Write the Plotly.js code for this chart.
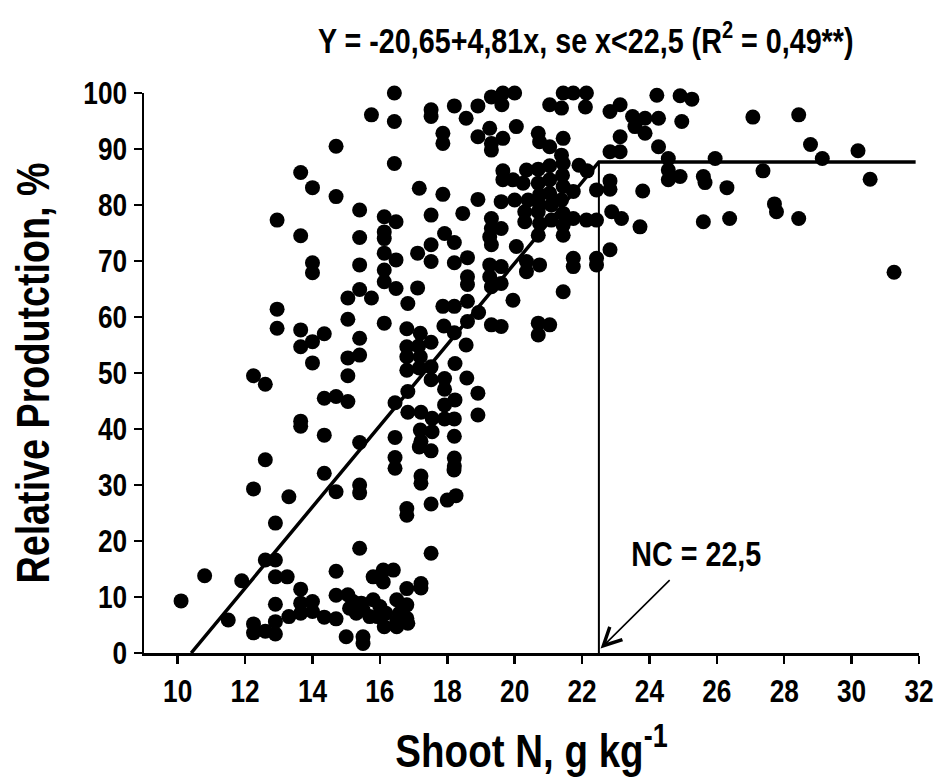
<!DOCTYPE html>
<html>
<head>
<meta charset="utf-8">
<script src="https://cdn.plot.ly/plotly-3.0.1.min.js"></script>
<style>html,body{margin:0;padding:0;background:#fff;}#chart{width:939px;height:778px;}</style>
</head>
<body>
<div id="chart"></div>
<script>
// Group A: Shoot N < 14.2
const shootN_A = [10.1,10.8,11.5,11.9,12.25,12.25,12.6,12.6,12.9,12.9,12.9,12.9,12.9,13.25,13.3,13.65,13.65,13.65,14.0,14.0,
  12.25,12.9,13.3,12.6,13.65,13.65,12.25,12.6,14.0,13.65,14.0,13.65,12.95,12.95,14.0,14.0,13.65,12.95,14.0,13.65];
const relProd_A = [9.3,13.8,5.9,12.9,5.2,3.6,3.9,16.6,16.6,13.6,8.7,5.6,3.4,13.6,6.5,11.4,8.9,7.1,9.2,7.4,
  29.3,23.2,27.9,34.5,40.5,41.4,49.5,48.0,51.8,54.7,55.6,57.7,58.0,61.4,67.9,69.7,74.5,77.3,83.1,85.8];

// Group B: 14.2 - 16.6
const shootN_B = [14.35,14.7,14.7,14.7,15.05,15.2,15.45,15.5,15.1,15.3,15.8,16.0,16.18,15.7,15.93,16.13,15.0,15.5,15.5,15.8,16.1,16.4,16.1,16.5,16.5,16.5,16.58,15.4,
  14.35,14.7,15.4,15.4,14.35,15.4,14.35,14.7,15.05,15.05,15.05,15.4,15.4,15.05,14.35,15.05,15.4,15.75,16.13,15.4,16.13,16.13,16.13,16.48,16.48,15.4,16.13,16.13,16.13,16.48,15.4,14.7,14.7,16.43,16.43,15.75,16.43,16.45,16.45,16.45,16.45];
const relProd_B = [6.4,6.1,10.3,14.6,10.4,9.2,8.9,7.7,8.0,7.1,9.5,8.3,7.1,6.5,6.5,4.7,2.9,2.9,1.7,13.6,14.8,14.8,12.7,9.5,5.6,4.7,7.1,18.7,
  32.1,28.8,30.0,28.6,38.9,37.6,45.5,45.8,44.9,49.5,52.7,53.2,56.2,59.6,57.0,63.4,64.9,63.4,58.9,69.3,66.3,68.4,71.4,70.2,65.1,74.2,75.2,74.0,77.9,77.0,79.1,81.5,90.5,87.4,94.9,96.1,100,44.7,38.5,34.9,33.0];

// Group C: 16.6 - 19.0
const shootN_C = [17.52,17.52,18.21,18.56,18.91,17.87,17.87,18.91,
  17.17,17.87,18.91,17.52,18.46,17.92,18.21,17.52,17.12,17.52,18.21,18.6,18.6,18.6,17.12,16.83,17.87,18.21,18.6,18.93,18.6,17.9,18.21,
  16.8,17.2,17.52,17.15,16.8,16.8,17.2,17.52,16.8,17.17,17.52,17.92,17.92,18.23,18.58,18.91,18.91,18.56,16.83,16.83,17.22,17.55,17.92,18.21,17.92,18.23,17.2,17.55,17.22,17.52,17.17,18.21,18.21,18.21,17.22,17.22,16.8,16.8,17.52,18.0,18.26,18.2,17.52,
  16.8,17.22,17.22,16.8,16.8,16.83];
const relProd_C = [97.0,95.8,97.7,95.5,97.7,92.8,91.0,92.2,
  83.0,81.9,81.0,78.2,78.5,74.9,73.3,72.9,71.4,69.9,69.7,70.6,67.2,65.8,65.2,62.4,61.9,61.9,62.8,60.8,59.2,58.4,57.2,
  57.9,57.1,55.5,54.8,54.7,52.9,52.9,51.1,50.5,50.9,48.8,49.0,47.1,51.7,49.1,46.4,42.5,55.0,46.7,43.0,43.0,41.9,41.8,41.8,44.3,45.2,39.8,39.5,37.8,36.1,36.8,38.7,34.8,33.4,31.6,30.3,25.8,24.6,26.6,27.3,28.1,32.7,17.8,
  11.5,12.4,11.6,8.6,6.2,5.3];

// Group D: 19.0 - 23.5
const shootN_D = [19.31,19.65,20.0,19.62,19.26,19.31,19.31,19.65,20.05,21.04,21.39,21.44,21.74,22.13,22.1,20.7,20.74,21.04,21.44,21.39,22.83,23.13,23.5,23.13,22.83,23.13,
  19.65,19.65,19.95,20.35,20.7,21.04,21.44,21.42,21.91,22.15,20.25,20.7,21.04,21.44,21.74,22.43,22.83,22.83,19.6,20.0,20.4,20.74,20.74,21.04,21.09,21.39,
  19.31,19.31,19.6,19.26,19.31,20.3,20.3,20.7,20.74,20.7,21.09,21.44,21.44,21.44,21.74,22.13,22.43,22.88,23.17,22.83,20.05,
  20.35,20.35,20.74,19.26,19.26,19.6,19.6,19.31,21.74,21.74,22.43,22.43,21.44,19.95,20.7,21.04,20.7,19.31,19.6];
const relProd_D = [99.3,100,100,97.9,93.7,91.0,89.8,91.9,94.0,97.9,97.3,100,100,100,97.5,92.8,91.3,90.4,91.9,88.9,96.7,97.9,95.8,92.2,89.5,89.5,
  86.1,84.5,84.5,86.25,86.4,87.0,87.4,85.3,87.1,86.1,83.9,83.9,84.5,83.3,82.4,82.7,84.3,82.8,80.6,80.9,80.9,81.8,80.0,82.1,80.0,80.9,
  77.6,75.8,75.8,74.3,72.9,78.8,77.0,78.8,76.7,74.6,77.3,78.5,76.4,74.6,77.6,77.3,77.3,78.8,77.6,72.0,72.6,
  69.9,68.1,69.3,69.3,67.2,69.0,66.0,65.4,70.5,69.0,70.5,69.3,64.5,63.0,58.9,58.6,56.8,58.6,58.3];

// Group E: > 23.5
const shootN_E = [24.22,24.91,25.26,23.87,23.57,23.87,24.27,24.96,24.27,24.56,24.56,24.56,24.91,25.95,25.6,25.65,26.3,23.8,27.07,27.37,28.43,28.78,29.13,30.19,30.55,31.26,27.71,27.77,28.43,23.72,25.6,26.38];
const relProd_E = [99.6,99.5,98.9,95.5,94.0,92.8,95.5,94.9,90.4,88.3,86.25,84.5,85.1,88.3,85.1,84.0,83.1,82.5,95.7,86.1,96.1,90.8,88.3,89.7,84.6,68.0,80.2,78.8,77.6,76.1,77.0,77.6];

// Fitted linear-plateau model as drawn
const fitX = [10.4, 22.5, 31.9];
const fitY = [0, 87.7, 87.7];
const ncX = [22.5, 22.5];
const ncY = [0, 87.7];

const xTicks = [10,12,14,16,18,20,22,24,26,28,30,32];
const yTicks = [0,10,20,30,40,50,60,70,80,90,100];

const FONT = "'Liberation Sans', Arial, sans-serif";
const NARROW = 0.82; // reference uses a narrow bold face

const allX = [].concat(shootN_A, shootN_B, shootN_C, shootN_D, shootN_E);
const allY = [].concat(relProd_A, relProd_B, relProd_C, relProd_D, relProd_E);

const traces = [
  {x: allX, y: allY, type: 'scatter', mode: 'markers', cliponaxis: false,
   marker: {color: '#000', size: 15, line: {width: 0}}},
  {x: fitX, y: fitY, type: 'scatter', mode: 'lines', cliponaxis: false,
   line: {color: '#000', width: 3.5}},
  {x: ncX, y: ncY, type: 'scatter', mode: 'lines', cliponaxis: false,
   line: {color: '#000', width: 2}}
];

const layout = {
  width: 939, height: 778,
  margin: {l: 144, r: 20, t: 93, b: 125},
  paper_bgcolor: '#fff', plot_bgcolor: '#fff',
  showlegend: false,
  font: {family: FONT, color: '#000'},
  title: {text: 'Y = -20,65+4,81x, se x<22,5 (R<sup>2</sup> = 0,49**)',
          font: {family: FONT, size: 35, weight: 'bold', color: '#000'},
          x: 0.57, xanchor: 'center', xref: 'paper', y: 0.948, yanchor: 'middle'},
  xaxis: {range: [9, 32], tickvals: xTicks, ticktext: xTicks.map(String),
          showline: true, linecolor: '#000', linewidth: 2.5, mirror: false,
          ticks: 'outside', ticklen: 8, tickwidth: 2.5, tickcolor: '#000',
          showgrid: false, zeroline: false,
          tickfont: {family: FONT, size: 32, weight: 'bold', color: '#000'},
          title: {text: 'Shoot N, g kg<sup>-1</sup>', standoff: 26,
                  font: {family: FONT, size: 47, weight: 'bold', color: '#000'}}},
  yaxis: {range: [0, 100], tickvals: yTicks, ticktext: yTicks.map(String),
          showline: true, linecolor: '#000', linewidth: 2.5,
          ticks: 'outside', ticklen: 8, tickwidth: 2.5, tickcolor: '#000',
          showgrid: false, zeroline: false,
          tickfont: {family: FONT, size: 32, weight: 'bold', color: '#000'},
          title: {text: 'Relative Produtction, %', standoff: 10,
                  font: {family: FONT, size: 46, weight: 'bold', color: '#000'}}},
  annotations: [
    {x: 22.55, y: 0.8, xref: 'x', yref: 'y', text: 'NC = 22,5', showarrow: true,
     ax: 96, ay: -95, startstandoff: 8, arrowhead: 5, arrowsize: 2.2, arrowwidth: 1.6, arrowcolor: '#000',
     font: {family: FONT, size: 35, weight: 'bold', color: '#000'}}
  ]
};

function condense() {
  document.querySelectorAll('#chart svg text').forEach(function (t) {
    if (!t.textContent || !t.textContent.trim()) { t.remove(); return; }
    if (t.dataset.condensed) return;
    const x = parseFloat(t.getAttribute('x')) || 0;
    const y = parseFloat(t.getAttribute('y')) || 0;
    const old = t.getAttribute('transform') || '';
    t.setAttribute('transform', (old + ' translate(' + x + ',' + y + ') scale(' + NARROW + ',1) translate(' + (-x) + ',' + (-y) + ')').trim());
    t.dataset.condensed = '1';
  });
}

Plotly.newPlot('chart', traces, layout, {displayModeBar: false, staticPlot: true}).then(condense);
</script>
</body>
</html>
